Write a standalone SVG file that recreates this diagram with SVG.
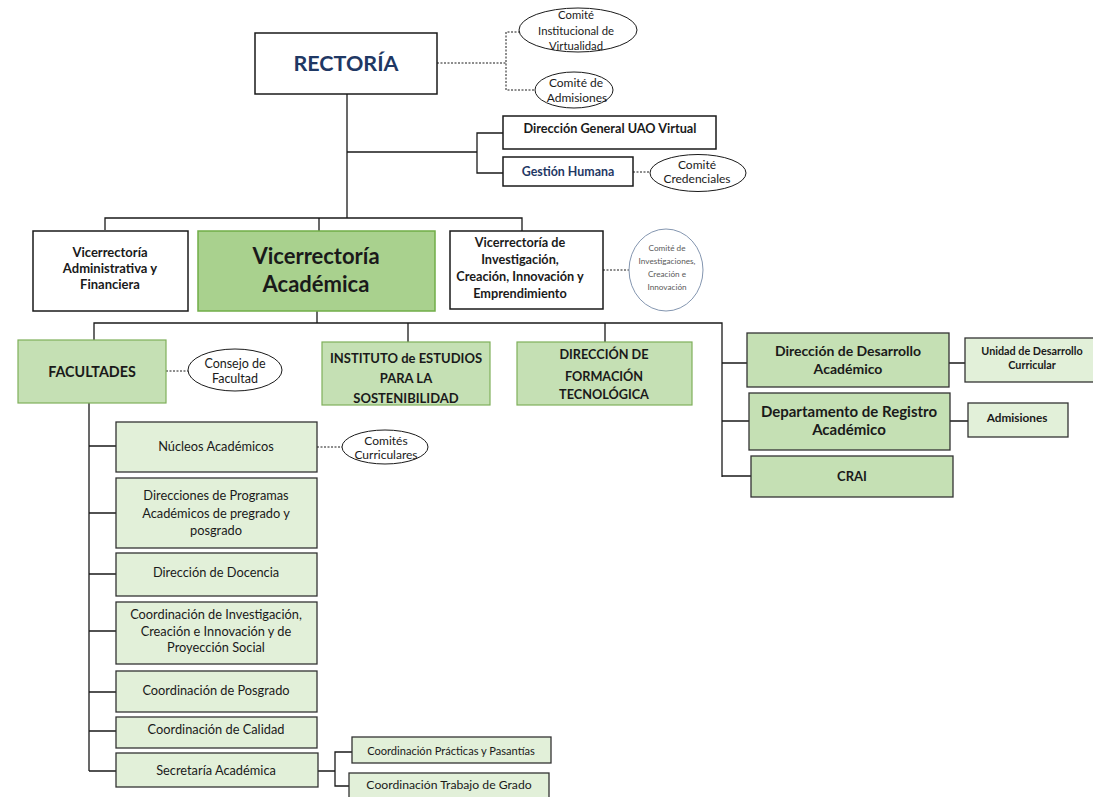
<svg xmlns="http://www.w3.org/2000/svg" width="1093" height="797" viewBox="0 0 1093 797">
<style>
text{font-family:Lato,"Open Sans","Liberation Sans",sans-serif;text-anchor:middle;fill:#1a1a1a}
.b{font-weight:bold;font-size:12.7px}
.r{font-size:12.8px}
.wbox{fill:#fff;stroke:#1a1a1a;stroke-width:1.5}
.gdark{fill:#A9D18E;stroke:#70AD47;stroke-width:1.5}
.gmid{fill:#C5E0B4;stroke:#7FB05A;stroke-width:1.2}
.gmidk{fill:#C5E0B4;stroke:#333;stroke-width:1.3}
.glight{fill:#E2F0D9;stroke:#333;stroke-width:1.3}
.ell{fill:#fff;stroke:#1a1a1a;stroke-width:1}
.ln{fill:none;stroke:#1a1a1a;stroke-width:1.3}
.dash{fill:none;stroke:#1a1a1a;stroke-width:1;stroke-dasharray:2 1.5}
.e{font-size:12px}
</style>
<defs>
<clipPath id="clipInst"><rect x="322" y="342" width="168" height="62"/></clipPath>
</defs>
<rect width="1093" height="797" fill="#fff"/>
<g id="connectors">
<path class="ln" d="M347 94V218M105 230V218H522V231M319 218V231"/>
<path class="ln" d="M347 152H477M503 133H477V173H503"/>
<path class="dash" d="M437 63H506M520 32H506V90H536M633 172H650M603 270H630M166 371H188M317 447H342"/>
<path class="ln" d="M317 311V323M94 340V323H722V477M408 323V342M605 323V342M722 363H747M722 421H749M722 476H751M949 363H965M950 421H968"/>
<path class="ln" d="M89 403V771M89 446H116M89 513H116M89 574H116M89 631H116M89 692H116M89 731H116M89 771H116M318 771H335M352 752H335V786H349"/>
</g>
<g id="rectoria"><rect class="wbox" x="255" y="33" width="182" height="61" stroke-width="2.2"/><text x="346" y="71" font-size="21.5" font-weight="bold" style="fill:#1F3864">RECTORÍA</text></g>
<g id="comite-virtualidad"><ellipse class="ell" cx="578" cy="30" rx="59" ry="22"/><text font-size="11.3" x="576" y="19">Comité</text><text font-size="11.3" x="576" y="35">Institucional de</text><text font-size="11.3" x="576" y="50">Virtualidad</text></g>
<g id="comite-admisiones"><ellipse class="ell" cx="574" cy="90" rx="39" ry="18"/><text class="e" x="576" y="87">Comité de</text><text class="e" x="577" y="102">Admisiones</text></g>
<g id="uao-virtual"><rect class="wbox" x="503" y="116" width="213" height="33"/><text class="b" x="610" y="133">Dirección General UAO Virtual</text></g>
<g id="gestion-humana"><rect class="wbox" x="503" y="157" width="130" height="29"/><text x="568" y="176" font-size="12.4" font-weight="bold" style="fill:#1F3864">Gestión Humana</text></g>
<g id="comite-credenciales"><ellipse class="ell" cx="698" cy="173" rx="48" ry="18.5"/><text class="e" x="697" y="169">Comité</text><text class="e" x="697" y="183">Credenciales</text></g>
<g id="vr-administrativa"><rect class="wbox" x="33" y="231" width="155" height="80"/><text class="b" x="110" y="257" style="font-size:13px">Vicerrectoría</text><text class="b" x="110" y="273" style="font-size:13px">Administrativa y</text><text class="b" x="110" y="289" style="font-size:13px">Financiera</text></g>
<g id="vr-academica"><rect class="gdark" x="198" y="231" width="237" height="80"/><text font-weight="bold" font-size="22" x="316" y="264">Vicerrectoría</text><text font-weight="bold" font-size="22" x="316" y="292">Académica</text></g>
<g id="vr-investigacion"><rect class="wbox" x="450" y="231" width="153" height="78"/><text class="b" x="520" y="247">Vicerrectoría de</text><text class="b" x="520" y="264">Investigación,</text><text class="b" x="520" y="281">Creación, Innovación y</text><text class="b" x="520" y="298">Emprendimiento</text></g>
<g id="comite-investigaciones"><ellipse cx="666" cy="270" rx="37" ry="41" fill="#fff" stroke="#8496B0" stroke-width="1"/><text x="667" y="251" font-size="8.2" style="fill:#595959">Comité de</text><text x="667" y="264" font-size="8.2" style="fill:#595959">Investigaciones,</text><text x="667" y="277" font-size="8.2" style="fill:#595959">Creación e</text><text x="667" y="290" font-size="8.2" style="fill:#595959">Innovación</text></g>
<g id="facultades"><rect class="gmid" x="18" y="340" width="148" height="63"/><text font-weight="bold" font-size="14.3" x="92" y="377">FACULTADES</text></g>
<g id="consejo-facultad"><ellipse class="ell" cx="235" cy="370" rx="47" ry="21"/><text font-size="12.5" x="235" y="368">Consejo de</text><text font-size="12.5" x="235" y="383">Facultad</text></g>
<g id="instituto"><rect class="gmid" x="322" y="342" width="168" height="63"/><g clip-path="url(#clipInst)"><text class="b" x="406" y="363" style="font-size:13px">INSTITUTO de ESTUDIOS</text><text class="b" x="406" y="383" style="font-size:13px">PARA LA</text><text class="b" x="406" y="403" style="font-size:13px">SOSTENIBILIDAD</text></g></g>
<g id="formacion-tecnologica"><rect class="gmid" x="517" y="342" width="175" height="63"/><text class="b" x="604" y="359">DIRECCIÓN DE</text><text class="b" x="604" y="381">FORMACIÓN</text><text class="b" x="604" y="399">TECNOLÓGICA</text></g>
<g id="desarrollo-academico"><rect class="gmidk" x="747" y="333" width="202" height="54"/><text x="848" y="356" font-weight="bold" font-size="14">Dirección de Desarrollo</text><text x="848" y="374" font-weight="bold" font-size="14">Académico</text></g>
<g id="unidad-curricular"><rect class="glight" x="965" y="338" width="132" height="44"/><text font-weight="bold" font-size="10.8" x="1032" y="355">Unidad de Desarrollo</text><text font-weight="bold" font-size="10.8" x="1032" y="369">Curricular</text></g>
<g id="registro-academico"><rect class="gmidk" x="749" y="393" width="201" height="57"/><text x="849" y="417" font-weight="bold" font-size="15">Departamento de Registro</text><text x="849" y="435" font-weight="bold" font-size="15">Académico</text></g>
<g id="admisiones"><rect class="glight" x="968" y="403" width="100" height="34"/><text font-weight="bold" font-size="11.8" x="1017" y="422">Admisiones</text></g>
<g id="crai"><rect class="gmidk" x="751" y="456" width="202" height="41"/><text font-weight="bold" font-size="13" x="852" y="481">CRAI</text></g>
<g id="nucleos"><rect class="glight" x="116" y="422" width="201" height="50"/><text class="r" x="216" y="451">Núcleos Académicos</text></g>
<g id="comites-curriculares"><ellipse class="ell" cx="385" cy="447" rx="43" ry="17"/><text class="e" x="386" y="445">Comités</text><text class="e" x="386" y="459">Curriculares</text></g>
<g id="direcciones-programas"><rect class="glight" x="116" y="478" width="201" height="70"/><text class="r" x="216" y="500">Direcciones de Programas</text><text class="r" x="216" y="518">Académicos de pregrado y</text><text class="r" x="216" y="535">posgrado</text></g>
<g id="docencia"><rect class="glight" x="116" y="553" width="201" height="43"/><text class="r" x="216" y="577">Dirección de Docencia</text></g>
<g id="coord-investigacion"><rect class="glight" x="116" y="602" width="201" height="62"/><text class="r" x="216" y="619">Coordinación de Investigación,</text><text class="r" x="216" y="636">Creación e Innovación y de</text><text class="r" x="216" y="652">Proyección Social</text></g>
<g id="coord-posgrado"><rect class="glight" x="116" y="671" width="201" height="41"/><text class="r" x="216" y="695">Coordinación de Posgrado</text></g>
<g id="coord-calidad"><rect class="glight" x="116" y="717" width="201" height="31"/><text class="r" x="216" y="734">Coordinación de Calidad</text></g>
<g id="secretaria"><rect class="glight" x="116" y="753" width="202" height="34"/><text class="r" x="216" y="775">Secretaría Académica</text></g>
<g id="practicas"><rect class="glight" x="352" y="737" width="199" height="26"/><text font-size="11.1" x="451" y="755">Coordinación Prácticas y Pasantías</text></g>
<g id="trabajo-grado"><rect class="glight" x="349" y="773" width="200" height="30"/><text font-size="12.2" x="449" y="789">Coordinación Trabajo de Grado</text></g>
</svg>
